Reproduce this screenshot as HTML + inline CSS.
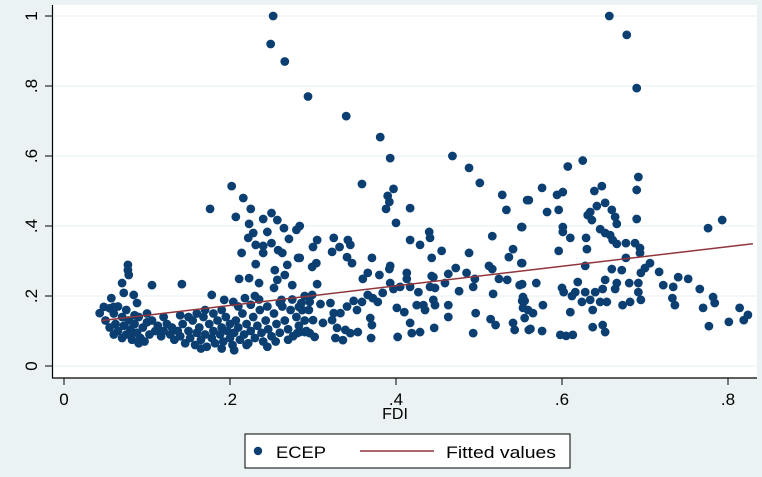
<!DOCTYPE html>
<html>
<head>
<meta charset="utf-8">
<style>
  html,body{margin:0;padding:0;background:#eaf2f3;}
  svg{display:block;font-family:"Liberation Sans",Arial,sans-serif;}
</style>
</head>
<body>
<svg id="chart" width="762" height="477" viewBox="0 0 762 477" xmlns="http://www.w3.org/2000/svg">
  <rect x="0" y="0" width="762" height="477" fill="#eaf2f3"/>
  <rect x="53" y="5" width="704" height="373" fill="#ffffff"/>
  <g id="grid"></g>
  <g id="points"></g>
  <g id="fit"></g>
  <g id="axes"></g>
  <text x="395" y="419" font-size="16" text-anchor="middle" fill="#000">FDI</text>
  <g>
    <rect x="245" y="434" width="325" height="34" fill="#fff" stroke="#000" stroke-width="1"/>
    <circle cx="258" cy="451" r="4.2" fill="#0b3f71"/>
    <text x="276" y="458" font-size="17" textLength="50" lengthAdjust="spacingAndGlyphs" fill="#000">ECEP</text>
    <line x1="360" y1="451" x2="434" y2="451" stroke="#90353b" stroke-width="1.5"/>
    <text x="446" y="458" font-size="17" textLength="110" lengthAdjust="spacingAndGlyphs" fill="#000">Fitted values</text>
  </g>
</svg>
<script>
const xTicks = [0, 0.2, 0.4, 0.6, 0.8];
const xTickLabels = ["0", ".2", ".4", ".6", ".8"];
const yTicks = [0, 0.2, 0.4, 0.6, 0.8, 1];
const yTickLabels = ["0", ".2", ".4", ".6", ".8", "1"];
const fitRange = [0.045, 0.83];
const fitCoef = [0.117, 0.28];
const fdi = [];
const ecep = [];
const ecepPoints = [
[.252,1.0],[.249,.92],[.266,.87],[.294,.77],[.34,.714],[.381,.654],[.393,.594],[.468,.60],[.488,.566],[.607,.570],[.625,.587],[.657,1.0],[.678,.946],[.690,.794],[.692,.540],
[.501,.523],[.528,.489],[.533,.446],[.558,.474],[.359,.52],[.397,.506],[.39,.486],[.392,.469],[.388,.449],[.417,.451],[.40,.409],[.551,.397],[.516,.371],[.417,.36],[.429,.346],[.44,.383],[.441,.366],[.455,.329],[.443,.309],[.488,.323],[.541,.334],[.536,.311],[.551,.294],[.512,.286],[.516,.277],[.472,.28],[.463,.263],[.443,.257],[.485,.266],[.495,.249],[.524,.249],[.534,.246],[.549,.231],[.459,.237],[.447,.223],[.476,.214],[.493,.226],[.517,.206],[.553,.197],[.552,.186],[.559,.16],[.496,.151],[.463,.174],[.463,.14],[.514,.134],[.52,.117],[.541,.123],[.543,.103],[.56,.103],[.493,.094],[.446,.109],
[.393,.286],[.392,.277],[.38,.26],[.371,.309],[.366,.266],[.36,.249],[.347,.294],[.341,.311],[.345,.346],[.342,.36],[.332,.34],[.325,.366],[.323,.326],[.305,.36],[.30,.34],[.304,.294],[.299,.283],[.305,.234],[.284,.40],[.284,.309],
[.413,.266],[.413,.249],[.405,.226],[.417,.226],[.441,.226],[.445,.254],[.427,.211],[.393,.237],[.397,.22],[.384,.209],[.372,.194],[.366,.203],[.359,.183],[.349,.186],[.353,.16],[.341,.17],[.333,.151],[.325,.151],[.321,.18],[.309,.177],[.296,.183],[.299,.203],[.287,.16],[.30,.131],[.312,.123],[.323,.131],[.329,.109],[.339,.103],[.336,.074],[.327,.08],[.345,.094],[.354,.097],[.369,.137],[.371,.117],[.37,.08],[.401,.166],[.41,.154],[.417,.123],[.402,.083],[.419,.094],[.429,.097],[.425,.174],[.433,.174],[.435,.16],[.445,.189],[.447,.174],[.296,.094],[.302,.083],[.284,.097],[.287,.16],[.378,.183],
[.69,.503],[.576,.509],[.56,.474],[.594,.489],[.601,.497],[.639,.50],[.648,.514],[.582,.44],[.596,.446],[.634,.44],[.642,.457],[.652,.466],[.66,.446],[.664,.426],[.666,.406],[.636,.417],[.631,.431],[.69,.42],[.601,.397],[.601,.383],[.552,.397],[.646,.391],[.652,.38],[.658,.374],[.661,.36],[.61,.366],[.629,.366],[.63,.334],[.596,.329],[.666,.349],[.677,.351],[.688,.351],[.694,.337],[.694,.323],[.677,.309],[.706,.294],[.70,.28],[.695,.266],[.717,.269],[.74,.254],[.752,.249],[.766,.22],[.628,.286],[.66,.277],[.672,.274],[.552,.294],[.552,.234],[.569,.237],[.681,.237],[.722,.231],[.734,.226],[.692,.237],[.692,.211],[.619,.24],[.652,.246],[.666,.237],[.664,.22],[.649,.22],[.64,.211],[.628,.211],[.616,.211],[.60,.223],[.602,.211],[.612,.2],[.624,.183],[.634,.189],[.646,.183],[.654,.183],[.673,.174],[.682,.183],[.695,.189],[.733,.194],[.736,.174],[.77,.166],[.782,.197],[.784,.18],[.776,.394],[.793,.417],[.814,.166],[.824,.146],[.819,.131],[.801,.126],[.777,.114],[.577,.174],[.555,.186],[.553,.166],[.565,.151],[.555,.137],[.61,.154],[.637,.16],[.637,.111],[.649,.117],[.652,.097],[.576,.1],[.562,.106],[.598,.089],[.613,.089],[.605,.086],
[.202,.514],[.216,.48],[.176,.449],[.225,.449],[.207,.426],[.25,.437],[.24,.42],[.223,.406],[.257,.417],[.265,.394],[.28,.389],[.228,.38],[.222,.366],[.245,.383],[.271,.363],[.231,.346],[.24,.343],[.25,.351],[.258,.331],[.214,.323],[.24,.323],[.263,.323],[.282,.309],[.231,.291],[.269,.289],[.254,.274],[.266,.26],[.211,.249],[.223,.251],[.235,.237],[.257,.246],[.275,.231],[.253,.223],[.106,.231],[.142,.234],[.077,.289],[.077,.274],[.078,.26],[.07,.237],[.072,.209],[.057,.194],[.043,.151],[.048,.169],[.06,.169],[.084,.203],[.088,.18],[.178,.203],[.193,.189],[.204,.183],[.218,.194],[.23,.2],[.262,.189],[.283,.169],[.281,.094],[.29,.097],
[.05,.13],[.055,.11],[.06,.15],[.062,.12],[.065,.10],[.07,.14],[.072,.115],[.075,.09],[.078,.13],[.08,.105],[.082,.075],[.085,.12],[.088,.095],[.09,.14],[.092,.08],[.095,.11],[.097,.07],[.1,.125],[.103,.09],[.106,.13],[.11,.10],[.113,.115],[.117,.085],[.12,.10],[.124,.12],[.128,.09],[.13,.11],[.133,.075],[.137,.10],[.14,.085],[.143,.12],[.146,.065],[.15,.10],[.152,.08],[.155,.13],[.158,.06],[.16,.095],[.163,.11],[.165,.075],[.168,.14],[.17,.09],[.172,.055],[.175,.12],[.178,.08],[.18,.10],[.182,.065],[.185,.13],[.188,.09],[.19,.11],[.192,.07],[.195,.14],[.197,.10],[.2,.08],[.2,.12],[.203,.06],[.205,.095],[.207,.13],[.21,.11],[.212,.075],[.215,.15],[.217,.09],[.22,.12],[.222,.065],[.225,.10],[.228,.14],[.23,.08],[.233,.115],[.236,.16],[.238,.095],[.24,.07],[.243,.13],[.246,.105],[.25,.085],[.253,.15],[.256,.12],[.26,.095],[.263,.17],[.266,.13],[.27,.105],[.273,.16],[.276,.085],[.28,.14],[.283,.115],[.286,.18],[.29,.13],[.292,.10],[.295,.16],[.15,.14],[.16,.15],[.17,.16],[.18,.15],[.19,.16],[.14,.145],[.12,.14],[.1,.15],[.085,.145],[.075,.16],[.065,.17],[.055,.165],[.06,.09],[.07,.08],[.08,.09],[.09,.065],[.165,.05],[.19,.05],[.205,.045],[.22,.06],[.245,.055],[.255,.07],[.27,.075],[.21,.17],[.225,.175],[.245,.17],[.26,.18],[.275,.19],[.29,.2],[.235,.19]
];
ecepPoints.forEach(p => { fdi.push(p[0]); ecep.push(p[1]); });

const NS = "http://www.w3.org/2000/svg";
const X0 = 64, XS = 830, Y0 = 366, YS = 350;
function sx(v){ return X0 + v * XS; }
function sy(v){ return Y0 - v * YS; }
function mk(tag, attrs, parent){
  const el = document.createElementNS(NS, tag);
  for (const k in attrs) el.setAttribute(k, attrs[k]);
  parent.appendChild(el);
  return el;
}
const grid = document.getElementById('grid');
const axes = document.getElementById('axes');
const pts = document.getElementById('points');
const fit = document.getElementById('fit');

yTicks.forEach((t, i) => {
  const g = mk('line', {x1:53, x2:757, y1:sy(t), y2:sy(t), stroke:'#eaf2f3', 'stroke-width':1.2}, grid);
  
  
  const tk = mk('line', {x1:45, x2:53, y1:sy(t), y2:sy(t), stroke:'#000', 'stroke-width':1}, axes);
  
  
  const lb = mk('text', {x:0, y:0, 'font-size':17, 'text-anchor':'middle', fill:'#000',
    transform:'translate(37,' + sy(t) + ') rotate(-90)'}, axes);
  lb.textContent = yTickLabels[i];
  
  
});
xTicks.forEach((t, i) => {
  const tk = mk('line', {x1:sx(t), x2:sx(t), y1:378, y2:385, stroke:'#000', 'stroke-width':1}, axes);
  
  
  const lb = mk('text', {x:sx(t), y:405, 'font-size':17, 'text-anchor':'middle', fill:'#000'}, axes);
  lb.textContent = xTickLabels[i];
  
  
});
const ya = mk('line', {x1:52.5, x2:52.5, y1:5, y2:378, stroke:'#000', 'stroke-width':1.2}, axes);


const xa = mk('line', {x1:52, x2:757, y1:378, y2:378, stroke:'#000', 'stroke-width':1.2}, axes);



for (let i = 0; i < fdi.length; i++) {
  const c = mk('circle', {cx:sx(fdi[i]), cy:sy(ecep[i]), r:4.4, fill:'#0b3f71'}, pts);
  
  
}
const fl = mk('line', {x1:sx(fitRange[0]), y1:sy(fitCoef[0] + fitCoef[1]*fitRange[0]),
  x2:sx(fitRange[1]), y2:sy(fitCoef[0] + fitCoef[1]*fitRange[1]), stroke:'#90353b', 'stroke-width':1.5}, fit);


</script>
</body>
</html>
